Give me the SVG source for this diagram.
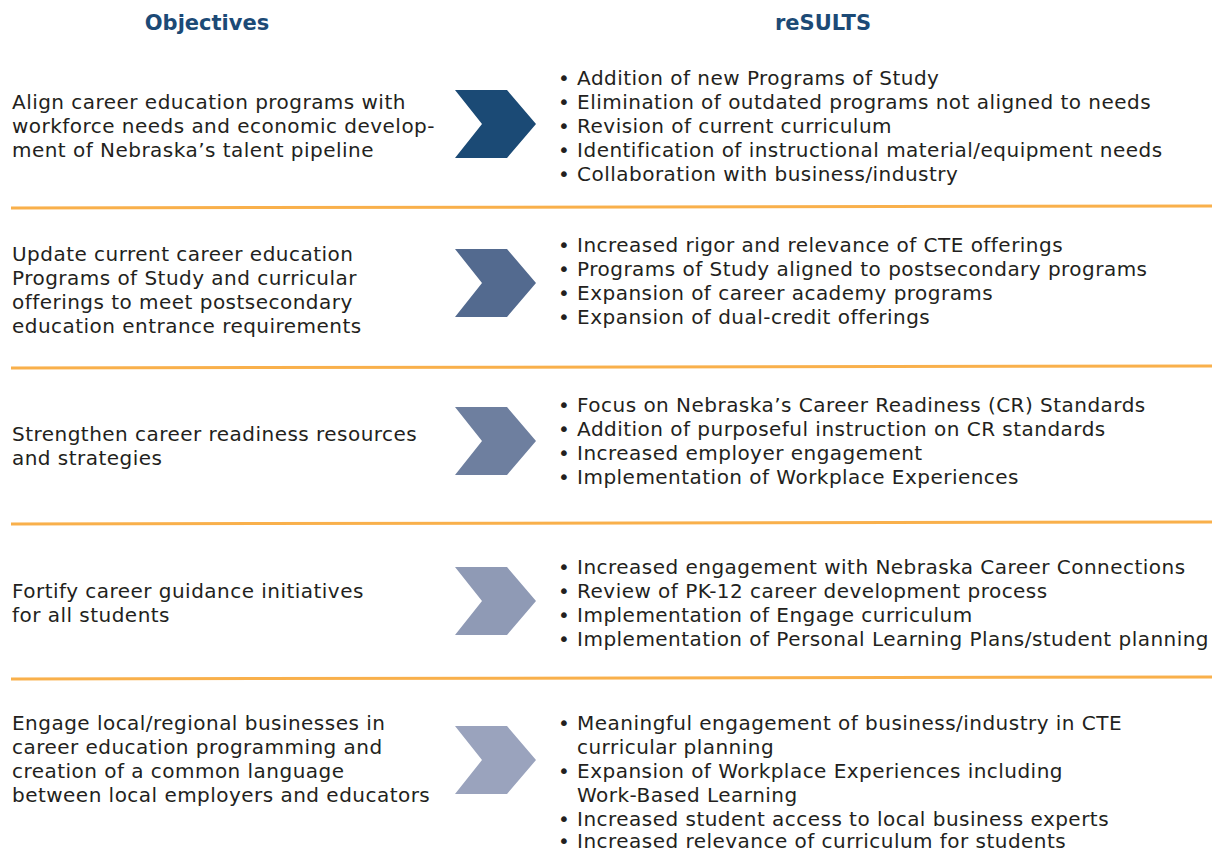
<svg xmlns="http://www.w3.org/2000/svg" xmlns:xlink="http://www.w3.org/1999/xlink" width="1222" height="852" viewBox="0 0 1222 852">
<style>
.h{font-family:"DejaVu Sans","Liberation Sans",sans-serif;font-weight:bold;font-size:21px;fill:#1c4a76;text-anchor:middle}
.t{font-family:"DejaVu Sans","Liberation Sans",sans-serif;font-size:20px;letter-spacing:0.47px;fill:#231f20}
.sep{stroke:#f9b04b;stroke-width:3;fill:none}
</style>
<defs>
<path id="chev" d="M0,0 L52,0 L81,34 L52,68 L0,68 L27,34 Z"/>
</defs>
<rect width="1222" height="852" fill="#fff"/>
<g id="headers">
<text class="h" x="207" y="30">Objectives</text>
<text class="h" x="823" y="30">reSULTS</text>
</g>
<g id="connectors">
<line class="sep" x1="11" y1="208" x2="1212" y2="206"/>
<line class="sep" x1="11" y1="368" x2="1212" y2="366"/>
<line class="sep" x1="11" y1="524" x2="1212" y2="522"/>
<line class="sep" x1="11" y1="679" x2="1212" y2="677"/>
</g>
<g id="row1">
<text class="t" x="12" y="109">Align career education programs with</text>
<text class="t" x="12" y="133">workforce needs and economic develop-</text>
<text class="t" x="12" y="157">ment of Nebraska’s talent pipeline</text>
<use xlink:href="#chev" x="455" y="90" fill="#1b4a75"/>
<text class="t" x="558" y="85">• Addition of new Programs of Study</text>
<text class="t" x="558" y="109">• Elimination of outdated programs not aligned to needs</text>
<text class="t" x="558" y="133">• Revision of current curriculum</text>
<text class="t" x="558" y="157">• Identification of instructional material/equipment needs</text>
<text class="t" x="558" y="181">• Collaboration with business/industry</text>
</g>
<g id="row2">
<text class="t" x="12" y="261">Update current career education</text>
<text class="t" x="12" y="285">Programs of Study and curricular</text>
<text class="t" x="12" y="309">offerings to meet postsecondary</text>
<text class="t" x="12" y="333">education entrance requirements</text>
<use xlink:href="#chev" x="455" y="249" fill="#536a8f"/>
<text class="t" x="558" y="252">• Increased rigor and relevance of CTE offerings</text>
<text class="t" x="558" y="276">• Programs of Study aligned to postsecondary programs</text>
<text class="t" x="558" y="300">• Expansion of career academy programs</text>
<text class="t" x="558" y="324">• Expansion of dual-credit offerings</text>
</g>
<g id="row3">
<text class="t" x="12" y="441">Strengthen career readiness resources</text>
<text class="t" x="12" y="465">and strategies</text>
<use xlink:href="#chev" x="455" y="407" fill="#6e7f9f"/>
<text class="t" x="558" y="412">• Focus on Nebraska’s Career Readiness (CR) Standards</text>
<text class="t" x="558" y="436">• Addition of purposeful instruction on CR standards</text>
<text class="t" x="558" y="460">• Increased employer engagement</text>
<text class="t" x="558" y="484">• Implementation of Workplace Experiences</text>
</g>
<g id="row4">
<text class="t" x="12" y="598">Fortify career guidance initiatives</text>
<text class="t" x="12" y="622">for all students</text>
<use xlink:href="#chev" x="455" y="567" fill="#8f9ab5"/>
<text class="t" x="558" y="574">• Increased engagement with Nebraska Career Connections</text>
<text class="t" x="558" y="598">• Review of PK-12 career development process</text>
<text class="t" x="558" y="622">• Implementation of Engage curriculum</text>
<text class="t" x="558" y="646">• Implementation of Personal Learning Plans/student planning</text>
</g>
<g id="row5">
<text class="t" x="12" y="730">Engage local/regional businesses in</text>
<text class="t" x="12" y="754">career education programming and</text>
<text class="t" x="12" y="778">creation of a common language</text>
<text class="t" x="12" y="802">between local employers and educators</text>
<use xlink:href="#chev" x="455" y="726" fill="#9aa3bd"/>
<text class="t" x="558" y="730">• Meaningful engagement of business/industry in CTE</text>
<text class="t" x="577" y="754">curricular planning</text>
<text class="t" x="558" y="778">• Expansion of Workplace Experiences including</text>
<text class="t" x="577" y="802">Work-Based Learning</text>
<text class="t" x="558" y="826">• Increased student access to local business experts</text>
<text class="t" x="558" y="848">• Increased relevance of curriculum for students</text>
</g>
</svg>
